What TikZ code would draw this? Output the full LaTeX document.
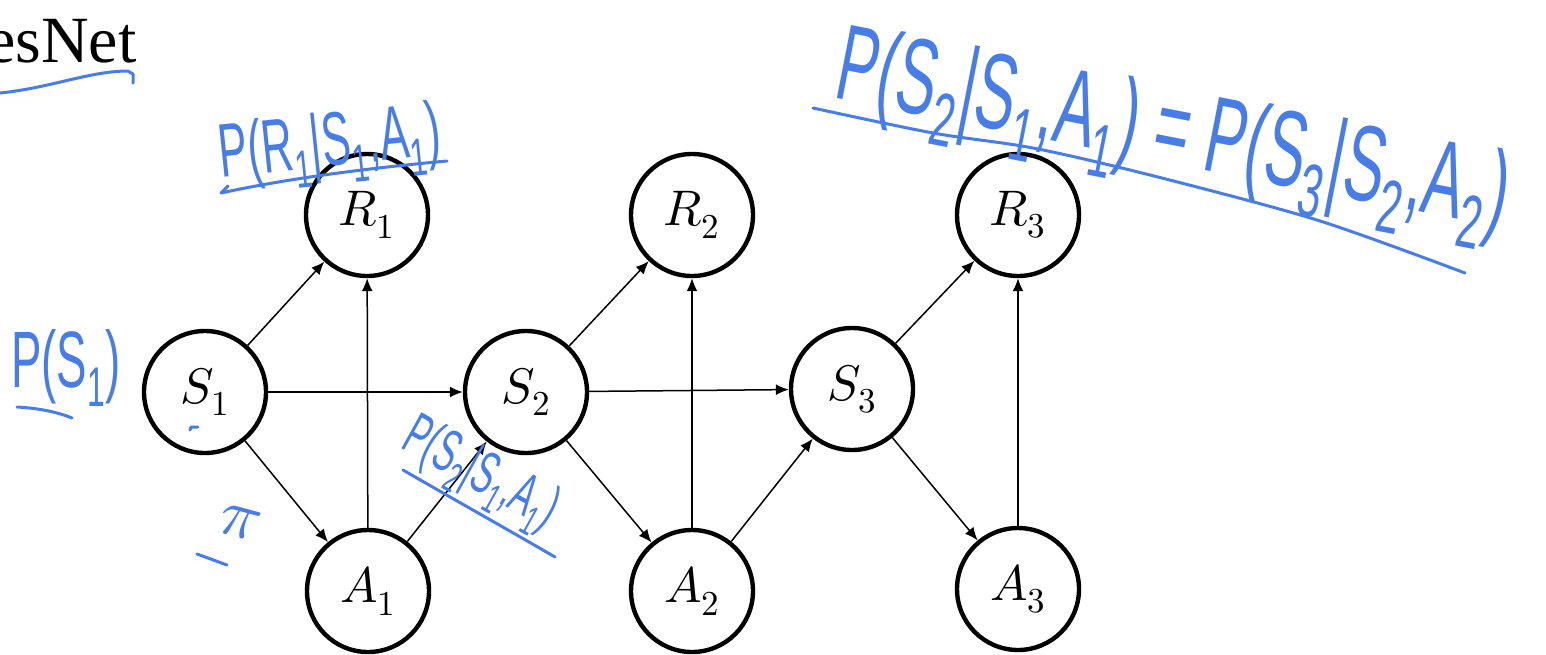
\documentclass[tikz,border=0pt]{standalone}
\usepackage{fontspec}
\usepackage{unicode-math}
\setmathfont{Latin Modern Math}
\usepackage{graphicx}
\newfontfamily\serifnet{Liberation Serif}
\newfontfamily\hand{Liberation Sans}
\usetikzlibrary{arrows.meta}
\definecolor{ink}{RGB}{72,124,230}
\begin{document}
\begin{tikzpicture}[x=0.5pt,y=-0.5pt,
  var/.style={circle, draw, line width=2.2pt, minimum size=61pt, inner sep=0pt, font=\fontsize{25}{30}\selectfont},
  edge/.style={line width=0.75pt, -{Latex[length=6.5pt,width=5.5pt]}},
  inkline/.style={draw=ink, line width=1.5pt, line cap=round, line join=round},
  inktext/.style={text=ink, inner sep=0pt, font=\hand}]
\useasboundingbox (0,0) rectangle (1546,654);

% title
\node[anchor=base east, inner sep=0pt, font=\serifnet\fontsize{33}{40}\selectfont] (title) at (137,62) {esNet};

% variables
\node[var] (R1) at (367,215) {$R_1$};
\node[var] (R2) at (692,215) {$R_2$};
\node[var] (R3) at (1018,215) {$R_3$};
\node[var] (S1) at (205,392) {$S_1$};
\node[var] (S2) at (526,392) {$S_2$};
\node[var] (S3) at (852,389) {$S_3$};
\node[var] (A1) at (368,591) {$A_1$};
\node[var] (A2) at (692,591) {$A_2$};
\node[var] (A3) at (1018,589) {$A_3$};

% edges
\draw[edge] (S1) -- (R1);
\draw[edge] (S1) -- (S2);
\draw[edge] (S1) -- (A1);
\draw[edge] (A1) -- (R1);
\draw[edge] (A1) -- (S2);
\draw[edge] (S2) -- (R2);
\draw[edge] (S2) -- (S3);
\draw[edge] (S2) -- (A2);
\draw[edge] (A2) -- (R2);
\draw[edge] (A2) -- (S3);
\draw[edge] (S3) -- (R3);
\draw[edge] (S3) -- (A3);
\draw[edge] (A3) -- (R3);

% handwritten annotations
\draw[inkline] (0,93) .. controls (50,88) and (90,71) .. (128,71) -- (133,74) -- (133,83);

\node[inktext, rotate=6] (pr) at (330,148) {\fontsize{38}{38}\selectfont\scalebox{0.57}[1]{P(R\textsubscript{1}|S\textsubscript{1},A\textsubscript{1})}};
\draw[inkline] (228,186) -- (221,193) .. controls (290,178) and (370,168) .. (447,161);

\node[inktext] (ps) at (66,368) {\fontsize{40}{40}\selectfont\scalebox{0.57}[1]{P(S\textsubscript{1})}};
\draw[inkline] (17,407) .. controls (35,408) and (55,411) .. (72,418);

\node[inktext, rotate=-29] (pt) at (480,476) {\fontsize{30}{30}\selectfont\scalebox{0.55}[1]{P(S\textsubscript{2}|S\textsubscript{1},A\textsubscript{1})}};
\draw[inkline] (403,470) .. controls (455,500) and (505,528) .. (555,557);

\node[text=ink, inner sep=0pt, rotate=-15] (pi) at (240,523) {\fontsize{34}{34}\selectfont$\pi$};
\draw[inkline] (197,554) -- (227,565);
\draw[inkline] (190,430) -- (191,427) -- (198,427);

\node[inktext, rotate=-11] (eq) at (1172,138) {\fontsize{54}{54}\selectfont\scalebox{0.56}[1]{P(S\textsubscript{2}|S\textsubscript{1},A\textsubscript{1}) = P(S\textsubscript{3}|S\textsubscript{2},A\textsubscript{2})}};
\draw[inkline] plot[smooth] coordinates {(813,108) (933,133) (1033,148) (1150,175) (1317,220) (1465,273)};
\end{tikzpicture}
\end{document}
